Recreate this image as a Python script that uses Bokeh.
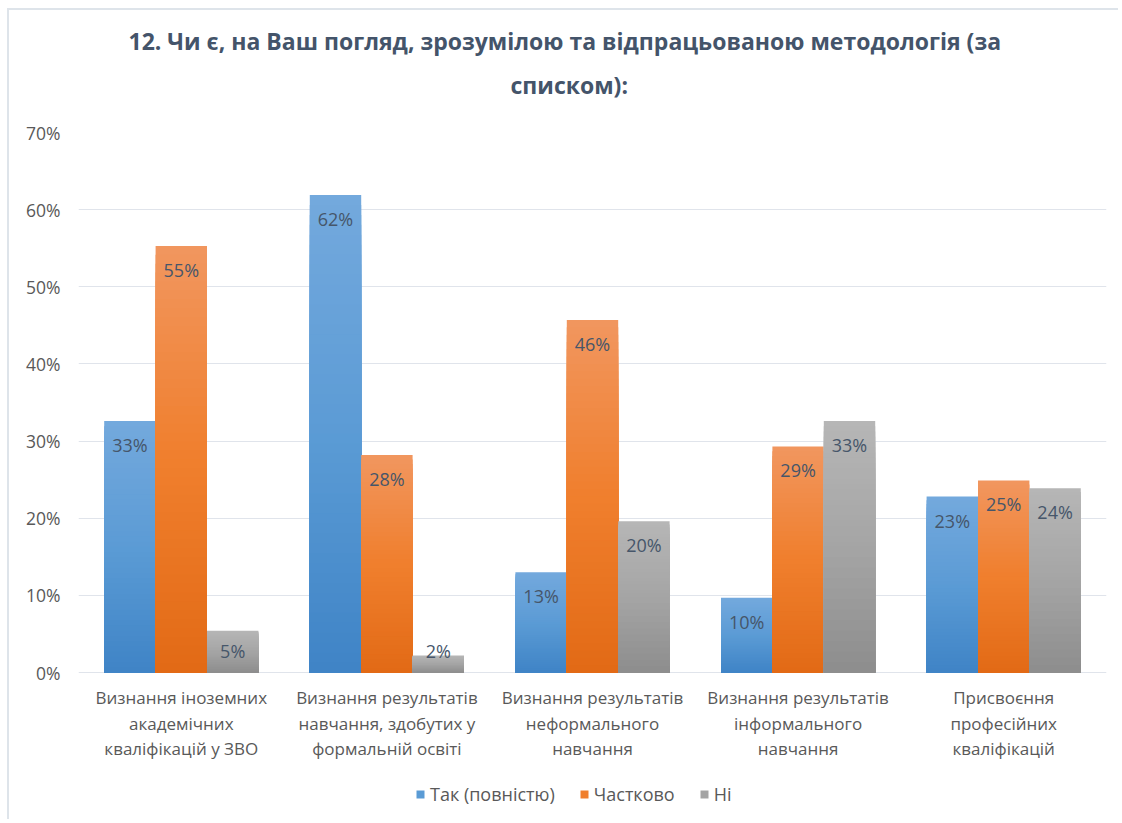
from bokeh.plotting import figure
from bokeh.models import (ColumnDataSource, FactorRange, FixedTicker, NumeralTickFormatter,
                          Title, Legend, LegendItem, LabelSet, Range1d)
from bokeh.core.properties import value
from bokeh.transform import dodge
from bokeh.embed import file_html
from bokeh.resources import INLINE

categories = [
    "Визнання іноземних\nакадемічних\nкваліфікацій у ЗВО",
    "Визнання результатів\nнавчання, здобутих у\nформальній освіті",
    "Визнання результатів\nнеформального\nнавчання",
    "Визнання результатів\nінформального\nнавчання",
    "Присвоєння\nпрофесійних\nкваліфікацій",
]
series_names = ["Так (повністю)", "Частково", "Ні"]
tak = [0.326, 0.619, 0.130, 0.097, 0.228]
chastkovo = [0.553, 0.282, 0.457, 0.293, 0.249]
ni = [0.054, 0.022, 0.196, 0.326, 0.239]
y_ticks = [0.0, 0.1, 0.2, 0.3, 0.4, 0.5, 0.6, 0.7]
title_line1 = "12. Чи є, на Ваш погляд, зрозумілою та відпрацьованою  методологія (за"
title_line2 = "списком):"

# gradient stops (top, middle, bottom)
gradients = [
    ("#74a9dd", "#5b9bd5", "#3f84c6"),
    ("#f1965f", "#f07f2d", "#e26a16"),
    ("#b6b6b6", "#a5a5a5", "#8d8d8d"),
]
offsets = [-0.25, 0.0, 0.25]
N = 48

def hex2rgb(h):
    h = h.lstrip("#")
    return tuple(int(h[i:i + 2], 16) for i in (0, 2, 4))

def mix(a, b, t):
    ra, rb = hex2rgb(a), hex2rgb(b)
    return "#%02x%02x%02x" % tuple(round(ra[i] + (rb[i] - ra[i]) * t) for i in range(3))

def grad_color(stops, t):  # t=0 top, t=1 bottom
    if t < 0.5:
        return mix(stops[0], stops[1], t / 0.5)
    return mix(stops[1], stops[2], (t - 0.5) / 0.5)

# layout (pixels, canvas coordinates)
W, H = 1111, 811
FRAME_LEFT, FRAME_RIGHT, FRAME_TOP, AXIS_Y = 69, 1097, 122, 662
y_top = 0.7
px_per_unit = (AXIS_Y - FRAME_TOP) / y_top
y_bottom = -(H - AXIS_Y) / px_per_unit

p = figure(width=W, height=H, x_range=FactorRange(factors=categories, range_padding=0),
           y_range=Range1d(y_bottom, y_top), output_backend="svg", toolbar_location=None,
           title=None, x_axis_location=None,
           min_border_left=FRAME_LEFT, min_border_right=W - FRAME_RIGHT,
           min_border_top=FRAME_TOP, min_border_bottom=0)
p.styles = {"margin-left": "7px", "margin-top": "8px",
            "border-left": "2px solid #dee4ea", "border-top": "2px solid #dee4ea"}
p.outline_line_color = None
p.background_fill_color = "white"
p.border_fill_color = "white"

text_font = "Open Sans"
label_col = "#46566a"
axis_col = "#595959"

renderers = []
all_values = [tak, chastkovo, ni]
for s, vals in enumerate(all_values):
    xs, tops, cols = [], [], []
    for k in range(N):
        for c, v in zip(categories, vals):
            xs.append(c)
            tops.append(v * (N - k) / N)
            cols.append(grad_color(gradients[s], (k + 0.5) / N))
    src = ColumnDataSource(dict(cat=xs, top=tops, color=cols))
    r = p.vbar(x=dodge("cat", offsets[s], range=p.x_range), top="top", bottom=0, width=0.25,
               fill_color="color", line_color=None, source=src)
    renderers.append(r)

    big = [(c, v) for c, v in zip(categories, vals) if v >= 0.06]
    small = [(c, v) for c, v in zip(categories, vals) if v < 0.06]
    for group, yoff in ((big, -24), (small, 22)):
        if not group:
            continue
        lsrc = ColumnDataSource(dict(cat=[b[0] for b in group],
                                     y=[b[1] if yoff < 0 else 0 for b in group],
                                     text=["%d%%" % round(b[1] * 100) for b in group]))
        p.add_layout(LabelSet(x=dodge("cat", offsets[s], range=p.x_range), y="y", text="text",
                              source=lsrc, y_offset=yoff, text_align="center",
                              text_baseline="middle", text_font_size=value("18px"),
                              text_color=value(label_col), text_font=value(text_font)))

# category labels under the baseline, one centred line at a time
line_offsets = [-25, -50.5, -76]
for li, yoff in enumerate(line_offsets):
    cats_l, texts_l = [], []
    for c in categories:
        parts = c.split("\n")
        if li < len(parts):
            cats_l.append(c)
            texts_l.append(parts[li])
    csrc = ColumnDataSource(dict(cat=cats_l, y=[0] * len(cats_l), text=texts_l))
    p.add_layout(LabelSet(x="cat", y="y", text="text", source=csrc, y_offset=yoff,
                          text_align="center", text_baseline="middle",
                          text_font_size=value("17px"), text_color=value(axis_col),
                          text_font=value(text_font)))

# y axis
p.yaxis.ticker = FixedTicker(ticks=y_ticks)
p.yaxis.formatter = NumeralTickFormatter(format="0%")
p.yaxis.axis_line_color = None
p.yaxis.major_tick_line_color = None
p.yaxis.minor_tick_line_color = None
p.yaxis.major_tick_out = 0
p.yaxis.major_tick_in = 0
p.yaxis.major_label_standoff = 18
p.yaxis.major_label_text_font = text_font
p.yaxis.major_label_text_font_size = "17.5px"
p.yaxis.major_label_text_color = axis_col

p.xgrid.grid_line_color = None
p.ygrid.grid_line_color = "#e0e4eb"
p.ygrid.grid_line_width = 1

# titles (spacer nearest the frame, then line 2, then line 1)
t3 = Title(text=" ", text_font_size="1px", standoff=24)
t2 = Title(text=title_line2, align="left", offset=432, text_font=text_font, text_font_size="23px",
           text_font_style="bold", text_color="#44546a", standoff=10)
t1 = Title(text=title_line1, align="left", offset=50, text_font=text_font, text_font_size="23px",
           text_font_style="bold", text_color="#44546a", standoff=10)
p.add_layout(t3, "above")
p.add_layout(t2, "above")
p.add_layout(t1, "above")

legend = Legend(items=[LegendItem(label=series_names[i], renderers=[renderers[i]], index=(N // 2) * 5)
                       for i in range(3)],
                orientation="horizontal", location=(337, 15), glyph_width=10, glyph_height=10,
                label_standoff=5, spacing=24, label_text_font=text_font,
                label_text_font_size="18px", label_text_color=axis_col,
                border_line_color=None, background_fill_alpha=0, padding=5, margin=0)
p.add_layout(legend, "center")

open("out.html", "w").write(file_html(p, INLINE))
